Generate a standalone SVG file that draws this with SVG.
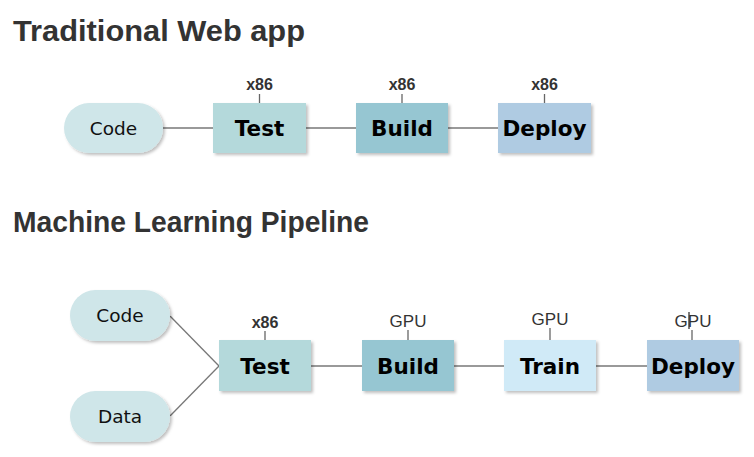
<svg xmlns="http://www.w3.org/2000/svg" width="754" height="457" viewBox="0 0 754 457">
  <defs>
    <filter id="sh" x="-10%" y="-10%" width="130%" height="140%">
      <feDropShadow dx="2" dy="2" stdDeviation="1.5" flood-color="#000" flood-opacity="0.25"/>
    </filter>
  </defs>
  <style>
    .title{font-family:"Liberation Sans",Arial,sans-serif;font-weight:bold;font-size:29px;fill:#333}
    .pill{fill:#cfe6e9;filter:url(#sh)}
    .box{filter:url(#sh)}
    .pt{font-family:"DejaVu Sans",Verdana,sans-serif;font-size:18.5px;fill:#111;text-anchor:middle}
    .bt{font-family:"DejaVu Sans",Verdana,sans-serif;font-weight:bold;font-size:21.5px;fill:#000;text-anchor:middle}
    .lab{font-family:"Liberation Sans",Arial,sans-serif;font-weight:bold;font-size:16px;fill:#333;text-anchor:middle}
    .gpu{font-family:"Liberation Sans",Arial,sans-serif;font-size:17px;fill:#333;text-anchor:middle}
    .ln{stroke:#777;stroke-width:1.3;fill:none}
    .tick{stroke:#666;stroke-width:1.3}
  </style>
  <rect width="754" height="457" fill="#fff"/>

  <text class="title" x="13" y="41" textLength="292" lengthAdjust="spacingAndGlyphs">Traditional Web app</text>
  <text class="title" x="13" y="232" textLength="356" lengthAdjust="spacingAndGlyphs">Machine Learning Pipeline</text>

  <g id="connectors">
    <line class="ln" x1="163" y1="128" x2="213" y2="128"/>
    <line class="ln" x1="306" y1="128" x2="356" y2="128"/>
    <line class="ln" x1="448" y1="128" x2="498" y2="128"/>
    <line class="ln" x1="170" y1="316" x2="219" y2="366"/>
    <line class="ln" x1="170" y1="416" x2="219" y2="366"/>
    <line class="ln" x1="311" y1="366" x2="362" y2="366"/>
    <line class="ln" x1="454" y1="366" x2="504" y2="366"/>
    <line class="ln" x1="596" y1="366" x2="647" y2="366"/>
  </g>

  <!-- Top row -->
  <g id="web-code">
    <rect class="pill" x="64" y="103" width="99" height="50" rx="25"/>
    <text class="pt" x="113.5" y="134.5">Code</text>
  </g>
  <g id="web-test">
    <rect class="box" x="213" y="103" width="93" height="50" fill="#b4d9db"/>
    <text class="bt" x="259.5" y="136">Test</text>
    <line class="tick" x1="259.5" y1="94" x2="259.5" y2="103"/>
    <text class="lab" x="259.5" y="90">x86</text>
  </g>
  <g id="web-build">
    <rect class="box" x="356" y="103" width="92" height="50" fill="#96c6d2"/>
    <text class="bt" x="402" y="136">Build</text>
    <line class="tick" x1="402" y1="94" x2="402" y2="103"/>
    <text class="lab" x="402" y="90">x86</text>
  </g>
  <g id="web-deploy">
    <rect class="box" x="498" y="103" width="93" height="50" fill="#afcbe2"/>
    <text class="bt" x="544.5" y="136">Deploy</text>
    <line class="tick" x1="544.5" y1="94" x2="544.5" y2="103"/>
    <text class="lab" x="544.5" y="90">x86</text>
  </g>

  <!-- Bottom row -->
  <g id="ml-code">
    <rect class="pill" x="70" y="290" width="100" height="51" rx="25.5"/>
    <text class="pt" x="120" y="322">Code</text>
  </g>
  <g id="ml-data">
    <rect class="pill" x="70" y="391" width="100" height="51" rx="25.5"/>
    <text class="pt" x="120" y="423">Data</text>
  </g>
  <g id="ml-test">
    <rect class="box" x="219" y="340" width="92" height="51" fill="#b4d9db"/>
    <text class="bt" x="265" y="373.5">Test</text>
    <line class="tick" x1="265" y1="331" x2="265" y2="340"/>
    <text class="lab" x="265" y="328">x86</text>
  </g>
  <g id="ml-build">
    <rect class="box" x="362" y="340" width="92" height="51" fill="#96c6d2"/>
    <text class="bt" x="408" y="373.5">Build</text>
    <line class="tick" x1="408" y1="330" x2="408" y2="340"/>
    <text class="gpu" x="408" y="327">GPU</text>
  </g>
  <g id="ml-train">
    <rect class="box" x="504" y="340" width="92" height="51" fill="#d0eaf7"/>
    <text class="bt" x="550" y="373.5">Train</text>
    <line class="tick" x1="550" y1="328" x2="550" y2="340"/>
    <text class="gpu" x="550" y="325">GPU</text>
  </g>
  <g id="ml-deploy">
    <rect class="box" x="647" y="340" width="92" height="51" fill="#afcbe2"/>
    <text class="bt" x="693" y="373.5">Deploy</text>
    <line class="tick" x1="692" y1="330" x2="692" y2="340"/>
    <text class="gpu" x="693" y="327">GPU</text>
    <line x1="689" y1="312" x2="689" y2="329" stroke="#333" stroke-width="1.3"/>
  </g>
</svg>
